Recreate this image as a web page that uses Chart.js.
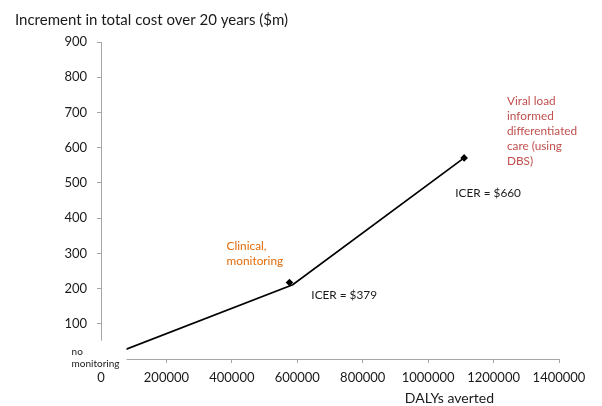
<!DOCTYPE html>
<html>
<head>
<meta charset="utf-8">
<script src="https://cdn.jsdelivr.net/npm/chart.js@4.4.1/dist/chart.umd.min.js"></script>
<style>
  body { margin: 0; background: #fff; }
  canvas { display: block; }
</style>
</head>
<body>
<canvas id="myChart" width="602" height="406"></canvas>
<script>
// dane wykresu
const yTitle = 'Increment in total cost over 20 years ($m)';
const xTitle = 'DALYs averted';

// linia kosztow (DALYs averted, $m)
const lineX = [0, 586000, 1110000];
const lineY = [0, 211, 571];

// punkty strategii
const pointX = [576000, 1110000];
const pointY = [217, 571];

const xTicks = [0, 200000, 400000, 600000, 800000, 1000000, 1200000, 1400000];
const yTicks = [0, 100, 200, 300, 400, 500, 600, 700, 800, 900];

// opisy na wykresie: tekst, kolor, pozycja w jednostkach danych
const noteText = [['no', 'monitoring'], ['Clinical,', 'monitoring'], ['ICER = $379'], ['ICER = $660'],
  ['Viral load', 'informed', 'differentiated', 'care (using', 'DBS)']];
const noteColor = ['#1a1a1a', '#e36c0a', '#1a1a1a', '#1a1a1a', '#c0504d'];
const noteX = [-90000, 384000, 643000, 1083000, 1241000];
const noteY = [4, 300, 180, 471, 647];

const FONT = 'Lato, "Open Sans", sans-serif';
const TXT = '#1a1a1a';
const AXIS = '#a6a6a6';

const toXY = (xs, ys) => xs.map((x, i) => ({ x: x, y: ys[i] }));

// rysowanie opisow i bialego pola pod "no monitoring"
const notesPlugin = {
  id: 'notes',
  afterDraw(chart) {
    const ctx = chart.ctx;
    const xs = chart.scales.x, ys = chart.scales.y;
    ctx.save();
    // biale tlo etykiety zaslania poczatek osi i linii
    const bx0 = xs.getPixelForValue(-95000), bx1 = xs.getPixelForValue(78000);
    const by0 = ys.getPixelForValue(52), by1 = ys.getPixelForValue(-36);
    ctx.fillStyle = '#fff';
    ctx.fillRect(bx0, by0, bx1 - bx0, by1 - by0);

    ctx.textAlign = 'left';
    ctx.textBaseline = 'middle';
    noteText.forEach((lines, i) => {
      const small = i === 0;
      const lh = small ? 12.5 : 14.8;
      ctx.font = (small ? '10px ' : '11.8px ') + FONT;
      ctx.fillStyle = noteColor[i];
      const px = xs.getPixelForValue(noteX[i]);
      const py = ys.getPixelForValue(noteY[i]) - (lines.length - 1) * lh / 2;
      lines.forEach((t, k) => ctx.fillText(t, px, py + k * lh));
    });

    // tytul osi X
    ctx.font = '14px ' + FONT;
    ctx.fillStyle = TXT;
    ctx.textAlign = 'center';
    ctx.fillText(xTitle, xs.getPixelForValue(1065000), 398);
    ctx.restore();
  }
};

new Chart(document.getElementById('myChart'), {
  type: 'scatter',
  data: {
    datasets: [{
      data: toXY(lineX, lineY),
      showLine: true,
      borderColor: '#000',
      borderWidth: 1.7,
      pointRadius: 0,
      tension: 0
    }, {
      data: toXY(pointX, pointY),
      pointStyle: 'rectRot',
      pointRadius: 3.8,
      backgroundColor: '#000',
      borderColor: '#000',
      borderWidth: 0
    }]
  },
  options: {
    responsive: false,
    animation: false,
    layout: { padding: { left: 15, top: 11, right: 43, bottom: 0 } },
    plugins: {
      legend: { display: false },
      tooltip: { enabled: false },
      title: {
        display: true,
        text: yTitle,
        align: 'start',
        color: TXT,
        font: { family: FONT, size: 15, weight: 'normal' },
        padding: { top: 0, bottom: 13 }
      }
    },
    scales: {
      x: {
        type: 'linear',
        min: 0,
        max: 1400000,
        afterBuildTicks: s => { s.ticks = xTicks.map(v => ({ value: v })); },
        afterFit: s => { s.height = 47; },
        grid: { drawOnChartArea: false, drawTicks: true, tickLength: 4, color: AXIS },
        border: { color: AXIS, width: 1 },
        ticks: {
          color: TXT,
          padding: 7,
          maxRotation: 0,
          font: { family: FONT, size: 13 },
          callback: v => String(v)
        }
      },
      y: {
        type: 'linear',
        min: 0,
        max: 900,
        afterBuildTicks: s => { s.ticks = yTicks.map(v => ({ value: v })); },
        afterFit: s => { s.width = 86; },
        grid: { drawOnChartArea: false, drawTicks: true, tickLength: 4, color: AXIS },
        border: { color: AXIS, width: 1 },
        ticks: {
          color: TXT,
          padding: 10,
          font: { family: FONT, size: 13 },
          callback: v => String(v)
        }
      }
    }
  },
  plugins: [notesPlugin]
});
</script>
</body>
</html>
